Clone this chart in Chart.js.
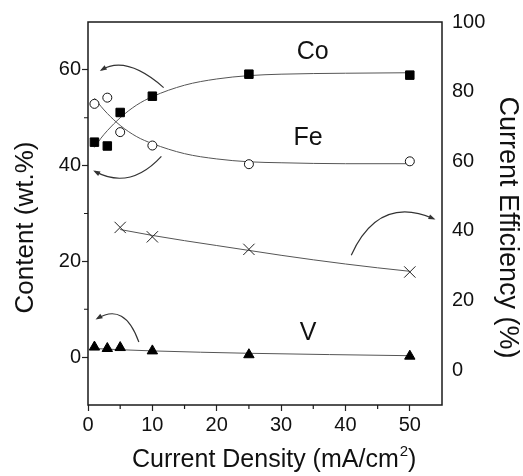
<!DOCTYPE html>
<html>
<head>
<meta charset="utf-8">
<script src="https://cdn.jsdelivr.net/npm/chart.js@4.4.1/dist/chart.umd.min.js"></script>
<style>
  body { margin: 0; background: #fff; }
  #wrap { width: 523px; height: 476px; }
</style>
</head>
<body>
<div id="wrap"><canvas id="chart" width="523" height="476"></canvas></div>
<script>
const FONT = '"Liberation Sans", Arial, Helvetica, sans-serif';

// measured points
const currentDensity = [1, 3, 5, 10, 25, 50];
const coContent = [44.9, 44.1, 51.1, 54.5, 59.1, 58.9];
const feContent = [52.9, 54.2, 47.0, 44.2, 40.3, 40.9];
const vContent = [2.1, 1.8, 2.0, 1.3, 0.5, 0.2];
const efficiencyDensity = [5, 10, 25, 50];
const efficiency = [41.0, 38.3, 34.7, 28.2];

// fitted curves
const fitDensity = [1, 2, 3, 5, 7.5, 10, 15, 20, 25, 30, 40, 50];
const coFit = [43.8, 45.7, 47.3, 50.0, 52.6, 54.4, 56.8, 58.1, 58.8, 59.1, 59.3, 59.4];
const feFit = [54.1, 52.4, 50.9, 48.4, 46.1, 44.6, 42.5, 41.4, 40.8, 40.6, 40.4, 40.4];
const vFitDensity = [1, 5, 10, 25, 50];
const vFit = [1.8, 1.55, 1.3, 0.8, 0.3];
const efficiencyFitDensity = [5, 10, 15, 20, 25, 30, 35, 40, 45, 50];
const efficiencyFit = [40.4, 38.7, 37.2, 35.8, 34.4, 33.0, 31.7, 30.5, 29.4, 28.4];

// ticks
const xTicks = [0, 10, 20, 30, 40, 50];
const xMinorTicks = [5, 15, 25, 35, 45];
const contentTicks = [0, 20, 40, 60];
const contentMinorTicks = [10, 30, 50];
const efficiencyTicks = [0, 20, 40, 60, 80, 100];

// series labels and arrows, in data units of the left axis
const seriesLabels = [
  { text: "Co", x: 34.9, y: 62.2 },
  { text: "Fe", x: 34.2, y: 44.3 },
  { text: "V", x: 34.2, y: 3.5 },
];
const arrows = [
  { from: [11.75, 56.3], ctrl: [6.0, 63.1], to: [2.1, 60.0] },
  { from: [11.4, 41.95], ctrl: [6.5, 34.8], to: [1.08, 38.8] },
  { from: [40.9, 21.3], ctrl: [45.2, 33.9], to: [53.7, 28.9] },
  { from: [7.9, 3.15], ctrl: [5.7, 11.5], to: [1.44, 8.05] },
];

function toPoints(xs, ys) {
  return xs.map((x, i) => ({ x: x, y: ys[i] }));
}

function fixTicks(values) {
  return (scale) => {
    scale.ticks = values.map((v) => ({ value: v }));
  };
}

const decorations = {
  id: "decorations",
  afterDraw(chart) {
    const { ctx, chartArea: area, scales } = chart;
    const xs = scales.x;
    const ys = scales.y;
    ctx.save();

    // frame
    ctx.strokeStyle = "#1a1a1a";
    ctx.lineWidth = 1.5;
    ctx.strokeRect(area.left, area.top, area.right - area.left, area.bottom - area.top);

    // minor ticks
    ctx.lineWidth = 1.2;
    ctx.beginPath();
    xMinorTicks.forEach((v) => {
      const px = xs.getPixelForValue(v);
      ctx.moveTo(px, area.bottom);
      ctx.lineTo(px, area.bottom + 4);
    });
    contentMinorTicks.forEach((v) => {
      const py = ys.getPixelForValue(v);
      ctx.moveTo(area.left, py);
      ctx.lineTo(area.left - 4, py);
    });
    ctx.stroke();

    // curved arrows
    ctx.strokeStyle = "#333";
    ctx.fillStyle = "#333";
    ctx.lineWidth = 1.2;
    arrows.forEach((a) => {
      const sx = xs.getPixelForValue(a.from[0]);
      const sy = ys.getPixelForValue(a.from[1]);
      const cx = xs.getPixelForValue(a.ctrl[0]);
      const cy = ys.getPixelForValue(a.ctrl[1]);
      const ex = xs.getPixelForValue(a.to[0]);
      const ey = ys.getPixelForValue(a.to[1]);
      ctx.beginPath();
      ctx.moveTo(sx, sy);
      ctx.quadraticCurveTo(cx, cy, ex, ey);
      ctx.stroke();
      const ang = Math.atan2(ey - cy, ex - cx);
      ctx.beginPath();
      ctx.moveTo(ex + Math.cos(ang) * 2, ey + Math.sin(ang) * 2);
      ctx.lineTo(ex - Math.cos(ang) * 5 - Math.sin(ang) * 2.5, ey - Math.sin(ang) * 5 + Math.cos(ang) * 2.5);
      ctx.lineTo(ex - Math.cos(ang) * 5 + Math.sin(ang) * 2.5, ey - Math.sin(ang) * 5 - Math.cos(ang) * 2.5);
      ctx.closePath();
      ctx.fill();
    });

    // series labels
    ctx.fillStyle = "#111";
    ctx.font = "25px " + FONT;
    ctx.textAlign = "center";
    ctx.textBaseline = "alphabetic";
    seriesLabels.forEach((l) => {
      ctx.fillText(l.text, xs.getPixelForValue(l.x), ys.getPixelForValue(l.y));
    });

    // axis titles
    ctx.save();
    ctx.translate(33, 227.5);
    ctx.rotate(-Math.PI / 2);
    ctx.font = "26px " + FONT;
    ctx.fillText("Content (wt.%)", 0, 0);
    ctx.restore();

    ctx.save();
    ctx.translate(500, 227.5);
    ctx.rotate(Math.PI / 2);
    ctx.font = "27px " + FONT;
    ctx.fillText("Current Efficiency (%)", 0, 0);
    ctx.restore();

    ctx.textAlign = "left";
    ctx.font = "25px " + FONT;
    const main = "Current Density (mA/cm";
    let tx = 132;
    const ty = 466.5;
    ctx.fillText(main, tx, ty);
    tx += ctx.measureText(main).width;
    ctx.font = "15px " + FONT;
    ctx.fillText("2", tx + 1, ty - 11);
    tx += ctx.measureText("2").width + 1;
    ctx.font = "25px " + FONT;
    ctx.fillText(")", tx, ty);

    ctx.restore();
  },
};

const tickFont = { family: FONT, size: 20 };

new Chart(document.getElementById("chart"), {
  type: "line",
  data: {
    datasets: [
      {
        data: toPoints(currentDensity, coContent),
        showLine: false,
        pointStyle: "rect",
        pointRadius: 6,
        backgroundColor: "#000",
        borderColor: "#000",
        borderWidth: 1,
      },
      {
        data: toPoints(currentDensity, feContent),
        showLine: false,
        pointStyle: "circle",
        pointRadius: 4.5,
        backgroundColor: "#fff",
        borderColor: "#111",
        borderWidth: 1,
      },
      {
        data: toPoints(currentDensity, vContent),
        showLine: false,
        pointStyle: "triangle",
        pointRadius: 6,
        backgroundColor: "#000",
        borderColor: "#000",
        borderWidth: 1,
      },
      {
        data: toPoints(efficiencyDensity, efficiency),
        yAxisID: "y1",
        showLine: false,
        pointStyle: "crossRot",
        pointRadius: 8,
        borderColor: "#222",
        borderWidth: 1,
      },
      {
        data: toPoints(fitDensity, coFit),
        pointRadius: 0,
        borderColor: "#555",
        borderWidth: 1,
        cubicInterpolationMode: "monotone",
      },
      {
        data: toPoints(fitDensity, feFit),
        pointRadius: 0,
        borderColor: "#555",
        borderWidth: 1,
        cubicInterpolationMode: "monotone",
      },
      {
        data: toPoints(vFitDensity, vFit),
        pointRadius: 0,
        borderColor: "#555",
        borderWidth: 1,
        cubicInterpolationMode: "monotone",
      },
      {
        data: toPoints(efficiencyFitDensity, efficiencyFit),
        yAxisID: "y1",
        pointRadius: 0,
        borderColor: "#555",
        borderWidth: 1,
        cubicInterpolationMode: "monotone",
      },
    ],
  },
  options: {
    responsive: false,
    animation: false,
    layout: { padding: { top: 22, left: 0, right: 0, bottom: 0 } },
    plugins: {
      legend: { display: false },
      tooltip: { enabled: false },
    },
    scales: {
      x: {
        type: "linear",
        position: "bottom",
        min: 0,
        max: 55,
        afterBuildTicks: fixTicks(xTicks),
        afterFit: (s) => { s.height = 71; },
        border: { display: false },
        grid: { drawOnChartArea: false, tickLength: 6, tickColor: "#222", tickWidth: 1.2 },
        ticks: { font: tickFont, color: "#111", padding: 2, maxRotation: 0 },
      },
      y: {
        position: "left",
        min: -10,
        max: 70,
        afterBuildTicks: fixTicks(contentTicks),
        afterFit: (s) => { s.width = 88; },
        border: { display: false },
        grid: { drawOnChartArea: false, tickLength: 6, tickColor: "#222", tickWidth: 1.2 },
        ticks: { font: tickFont, color: "#111", padding: 1 },
      },
      y1: {
        position: "right",
        min: -10,
        max: 100,
        afterBuildTicks: fixTicks(efficiencyTicks),
        afterFit: (s) => { s.width = 81; },
        border: { display: false },
        grid: { display: false, drawTicks: false },
        ticks: { font: tickFont, color: "#111", padding: 10 },
      },
    },
  },
  plugins: [decorations],
});
</script>
</body>
</html>
